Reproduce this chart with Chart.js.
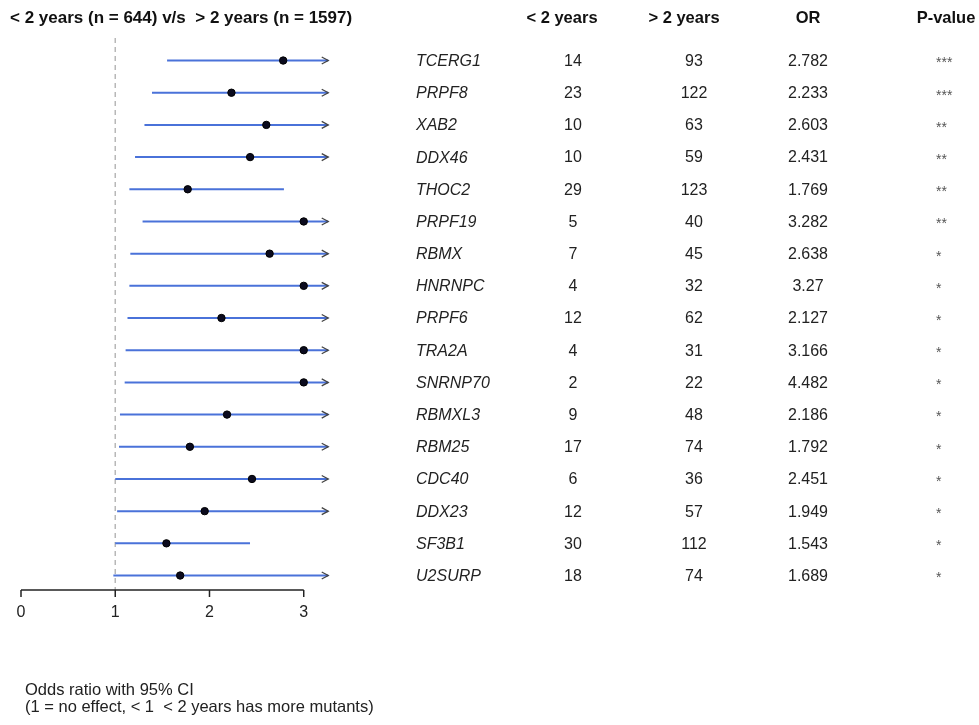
<!DOCTYPE html>
<html>
<head>
<meta charset="utf-8">
<script src="https://cdn.jsdelivr.net/npm/chart.js@4.4.1/dist/chart.umd.min.js"></script>
<style>
  html, body { margin: 0; padding: 0; background: #fff; }
  #wrap { width: 979px; height: 725px; position: relative; }
</style>
</head>
<body>
<div id="wrap"><canvas id="c" width="979" height="725"></canvas></div>
<script>
// ---- data ----
const titleText = '< 2 years (n = 644) v/s  > 2 years (n = 1597)';
const columnHeaders = ['< 2 years', '> 2 years', 'OR', 'P-value'];
const genes = ['TCERG1','PRPF8','XAB2','DDX46','THOC2','PRPF19','RBMX','HNRNPC','PRPF6','TRA2A','SNRNP70','RBMXL3','RBM25','CDC40','DDX23','SF3B1','U2SURP'];
const countLt2 = [14, 23, 10, 10, 29, 5, 7, 4, 12, 4, 2, 9, 17, 6, 12, 30, 18];
const countGt2 = [93, 122, 63, 59, 123, 40, 45, 32, 62, 31, 22, 48, 74, 36, 57, 112, 74];
const oddsRatio = [2.782, 2.233, 2.603, 2.431, 1.769, 3.282, 2.638, 3.27, 2.127, 3.166, 4.482, 2.186, 1.792, 2.451, 1.949, 1.543, 1.689];
const pValueStars = ['***','***','**','**','**','**','*','*','*','*','*','*','*','*','*','*','*'];
// 95% CI; null upper = beyond the plotted range (drawn with an arrow)
const ciLower = [1.55, 1.39, 1.31, 1.21, 1.15, 1.29, 1.16, 1.15, 1.13, 1.11, 1.10, 1.05, 1.04, 1.00, 1.02, 1.00, 0.98];
const ciUpper = [null, null, null, null, 2.79, null, null, null, null, null, null, null, null, null, null, 2.43, null];
const xTicks = [0, 1, 2, 3];
const displayMax = 3.26;   // where truncated CIs end (arrow)
const referenceValue = 1;
const footnoteLines = ['Odds ratio with 95% CI', '(1 = no effect, < 1  < 2 years has more mutants)'];

// ---- build datasets ----
const axisMax = xTicks[xTicks.length - 1];
const ciDatasets = genes.map((g, i) => ({
  type: 'line',
  label: g + ' CI',
  data: [{x: ciLower[i], y: i}, {x: ciUpper[i] === null ? displayMax : ciUpper[i], y: i}],
  borderColor: '#4a72d9',
  borderWidth: 2,
  pointRadius: 0,
  showLine: true,
  clip: false,
  order: 2
}));
const pointDataset = {
  type: 'scatter',
  label: 'OR',
  data: oddsRatio.map((v, i) => ({x: Math.min(v, axisMax), y: i})),
  backgroundColor: '#0b0b1e',
  borderColor: '#000',
  borderWidth: 1,
  pointRadius: 3.7,
  clip: false,
  order: 1
};

const FONT = '"Liberation Sans", Arial, sans-serif';

const forestPlugin = {
  id: 'forest',
  beforeDatasetsDraw(chart) {
    const {ctx, chartArea, scales} = chart;
    const x = scales.x.getPixelForValue(referenceValue);
    ctx.save();
    ctx.strokeStyle = '#b8b8b8';
    ctx.lineWidth = 1.5;
    ctx.setLineDash([5, 4]);
    ctx.beginPath();
    ctx.moveTo(x, chartArea.top);
    ctx.lineTo(x, chartArea.bottom);
    ctx.stroke();
    ctx.restore();
  },
  afterDatasetsDraw(chart) {
    const {ctx, chartArea, scales} = chart;
    const xs = scales.x, ys = scales.y;
    ctx.save();
    // arrows for truncated CIs
    ctx.strokeStyle = '#444';
    ctx.lineWidth = 1.3;
    genes.forEach((g, i) => {
      if (ciUpper[i] !== null) return;
      const xe = xs.getPixelForValue(displayMax);
      const y = ys.getPixelForValue(i);
      ctx.beginPath();
      ctx.moveTo(xe - 6.5, y - 3.5);
      ctx.lineTo(xe, y);
      ctx.lineTo(xe - 6.5, y + 3.5);
      ctx.stroke();
    });
    // x axis
    const yA = chartArea.bottom;
    ctx.strokeStyle = '#222';
    ctx.lineWidth = 1.5;
    ctx.beginPath();
    ctx.moveTo(xs.getPixelForValue(xTicks[0]), yA);
    ctx.lineTo(xs.getPixelForValue(axisMax), yA);
    ctx.stroke();
    ctx.fillStyle = '#222';
    ctx.font = '16px ' + FONT;
    ctx.textAlign = 'center';
    ctx.textBaseline = 'middle';
    xTicks.forEach(t => {
      const px = xs.getPixelForValue(t);
      ctx.beginPath();
      ctx.moveTo(px, yA);
      ctx.lineTo(px, yA + 7);
      ctx.stroke();
      ctx.fillText(String(t), px, yA + 23);
    });
    // title & headers
    ctx.fillStyle = '#111';
    ctx.font = 'bold 17px ' + FONT;
    ctx.textAlign = 'left';
    ctx.fillText(titleText, 10, 18);
    ctx.font = 'bold 16.5px ' + FONT;
    const colX = [562, 684, 808, 946];
    ctx.textAlign = 'center';
    columnHeaders.forEach((h, k) => ctx.fillText(h, colX[k], 18));
    // table rows
    genes.forEach((g, i) => {
      const y = ys.getPixelForValue(i) + 1;
      ctx.fillStyle = '#222';
      ctx.font = 'italic 16px ' + FONT;
      ctx.textAlign = 'left';
      ctx.fillText(g, 416, y);
      ctx.font = '16px ' + FONT;
      ctx.textAlign = 'center';
      ctx.fillText(String(countLt2[i]), 573, y);
      ctx.fillText(String(countGt2[i]), 694, y);
      ctx.fillText(String(oddsRatio[i]), 808, y);
      ctx.fillStyle = '#555';
      ctx.font = '14px ' + FONT;
      ctx.textAlign = 'left';
      ctx.fillText(pValueStars[i], 936, y + 2);
    });
    // footnote
    ctx.fillStyle = '#222';
    ctx.font = '16.5px ' + FONT;
    ctx.textAlign = 'left';
    ctx.fillText(footnoteLines[0], 25, 690);
    ctx.fillText(footnoteLines[1], 25, 707);
    ctx.restore();
  }
};

new Chart(document.getElementById('c'), {
  type: 'scatter',
  data: { datasets: [...ciDatasets, pointDataset] },
  options: {
    responsive: false,
    animation: false,
    events: [],
    layout: { padding: { left: 21, right: 647, top: 38, bottom: 135 } },
    plugins: { legend: { display: false }, tooltip: { enabled: false } },
    scales: {
      x: { type: 'linear', min: 0, max: 3.3, display: false },
      y: { type: 'linear', min: -0.7, max: 16.45, reverse: true, display: false }
    }
  },
  plugins: [forestPlugin]
});
</script>
</body>
</html>
